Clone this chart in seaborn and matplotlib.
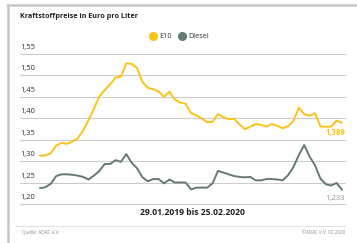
import numpy as np
import pandas as pd
import matplotlib
matplotlib.use("Agg")
import matplotlib.pyplot as plt
import seaborn as sns
from matplotlib.lines import Line2D
from matplotlib.transforms import blended_transform_factory

# weekly averages, 29.01.2019 to 25.02.2020
e10 = [1.312, 1.313, 1.318, 1.336, 1.342, 1.340, 1.345, 1.353, 1.371, 1.395,
       1.422, 1.450, 1.465, 1.478, 1.494, 1.496, 1.527, 1.526, 1.516, 1.484,
       1.470, 1.467, 1.462, 1.449, 1.461, 1.443, 1.436, 1.433, 1.412, 1.406,
       1.399, 1.390, 1.391, 1.409, 1.402, 1.397, 1.398, 1.385, 1.374, 1.380,
       1.386, 1.384, 1.380, 1.386, 1.382, 1.376, 1.381, 1.393, 1.424, 1.409,
       1.405, 1.411, 1.380, 1.380, 1.380, 1.394, 1.389]
diesel = [1.237, 1.239, 1.247, 1.265, 1.269, 1.269, 1.268, 1.266, 1.263, 1.257,
          1.266, 1.277, 1.293, 1.293, 1.302, 1.298, 1.316, 1.296, 1.283, 1.262,
          1.253, 1.258, 1.258, 1.248, 1.257, 1.250, 1.250, 1.250, 1.234, 1.238,
          1.238, 1.238, 1.248, 1.277, 1.273, 1.269, 1.265, 1.263, 1.262, 1.263,
          1.255, 1.255, 1.258, 1.258, 1.257, 1.255, 1.267, 1.286, 1.314, 1.337,
          1.310, 1.290, 1.259, 1.246, 1.243, 1.249, 1.233]
y_ticks = [1.20, 1.25, 1.30, 1.35, 1.40, 1.45, 1.50, 1.55]
series_names = ["E10", "Diesel"]
last_labels = ["1,389", "1,233"]

YELLOW = "#FBC318"
GREY = "#647A76"

sns.set_style("white")
plt.rcParams['font.family'] = ['Open Sans', 'DejaVu Sans']

W, H = 357, 243
fig = plt.figure(figsize=(W / 100, H / 100), dpi=100)

# axes placed in pixel coords of the reference
left, right, top, bottom = 20, 345, 53.5, 204
ax = fig.add_axes([left / W, 1 - bottom / H, (right - left) / W, (bottom - top) / H])

df = pd.DataFrame({"week": np.arange(len(e10)), "E10": e10, "Diesel": diesel})
long = df.melt(id_vars="week", var_name="Sorte", value_name="Preis")
sns.lineplot(data=long, x="week", y="Preis", hue="Sorte",
             palette={"E10": YELLOW, "Diesel": GREY}, linewidth=1.4,
             legend=False, ax=ax)

step = (342 - 40) / (len(e10) - 1)
ax.set_xlim(-(40 - left) / step, len(e10) - 1 + (right - 342) / step)
ax.set_ylim(1.20, 1.55)
for v in y_ticks:
    ax.axhline(v, color="#CCCCCC", linewidth=0.8, zorder=0, clip_on=False)
ax.set_xticks([])
ax.set_yticks([])
ax.set_xlabel("")
ax.set_ylabel("")
sns.despine(ax=ax, left=True, bottom=True)

trans = blended_transform_factory(ax.transAxes, ax.transData)
for v in y_ticks:
    ax.text(0, v + 0.006, f"{v:.2f}".replace(".", ","), transform=trans,
            fontsize=5.4, color="#2A2A2A", ha="left", va="bottom")

# end values
ax.text(1.0, e10[-1] - 0.012, last_labels[0], transform=trans, ha="right", va="top",
        fontsize=5.5, fontweight="bold", color=YELLOW)
ax.text(1.0, diesel[-1] - 0.012, last_labels[1], transform=trans, ha="right", va="top",
        fontsize=5.5, color="#8A9A97")

# title, legend, caption, footer
fig.text(20 / W, 1 - 17 / H, "Kraftstoffpreise in Euro pro Liter", fontsize=5.2,
         fontweight="bold", color="#222222", ha="left", va="center")
fig.add_artist(Line2D([153 / W], [1 - 36 / H], marker="o", markersize=5.5,
                      color=YELLOW, linestyle="none"))
fig.text(159 / W, 1 - 36 / H, series_names[0], fontsize=5.2, color="#333333", va="center")
fig.add_artist(Line2D([182 / W], [1 - 36 / H], marker="o", markersize=5.5,
                      color=GREY, linestyle="none"))
fig.text(188 / W, 1 - 36 / H, series_names[1], fontsize=5.2, color="#333333", va="center")

fig.text(192 / W, 1 - 212 / H, "29.01.2019 bis 25.02.2020", fontsize=6.2,
         fontweight="bold", color="#222222", ha="center", va="center")
fig.add_artist(Line2D([15 / W, 345 / W], [1 - 226 / H, 1 - 226 / H],
                      color="#E2E2E2", linewidth=0.8))
fig.text(22 / W, 1 - 232 / H, "Quelle: ADAC e.V.", fontsize=3.3, color="#888888",
         va="center")
fig.text(345 / W, 1 - 232 / H, "\u00a9ADAC e.V. 02.2020", fontsize=3.3,
         color="#888888", ha="right", va="center")

# grey frame at the top and left
fig.add_artist(Line2D([7 / W, 1], [1 - 5 / H, 1 - 5 / H], color="#C8C8C8", linewidth=1.8))
fig.add_artist(Line2D([8 / W, 8 / W], [0, 1 - 5 / H], color="#C8C8C8", linewidth=1.8))

fig.savefig("out.png", dpi=100)
